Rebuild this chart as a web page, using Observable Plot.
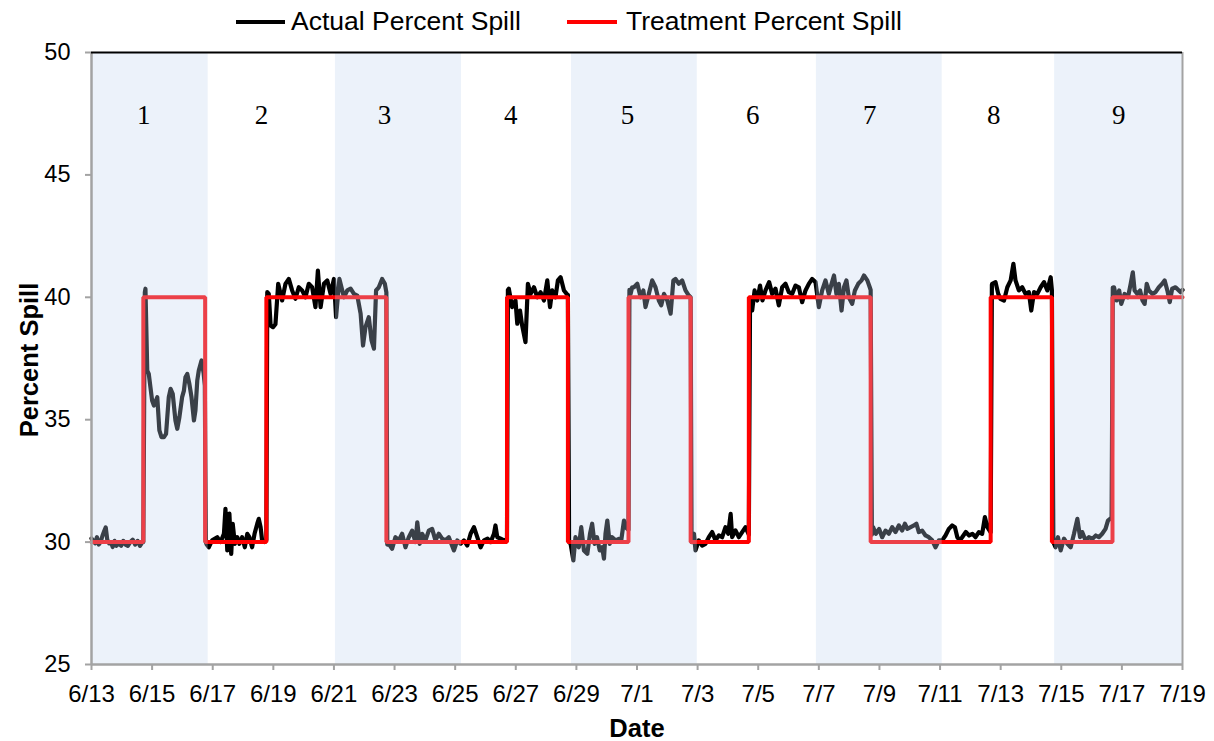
<!DOCTYPE html>
<html>
<head>
<meta charset="utf-8">
<script src="https://cdn.jsdelivr.net/npm/d3@7"></script>
<script src="https://cdn.jsdelivr.net/npm/@observablehq/plot@0.6"></script>
<style>
  html, body { margin: 0; padding: 0; background: #fff; }
  #wrap { position: relative; width: 1214px; height: 741px; font-family: "Liberation Sans", Arial, sans-serif; }
  .lg-line { position: absolute; height: 4px; }
  .lg-text { position: absolute; font-size: 26.5px; line-height: 26px; white-space: nowrap; color: #000; }
  .ttl { position: absolute; font-weight: bold; font-size: 25.5px; line-height: 26px; white-space: nowrap; color: #000; }
</style>
</head>
<body>
<div id="wrap">
  <div id="chart"></div>
  <div class="lg-line" style="left:236px; top:20px; width:49px; background:#000;"></div>
  <div class="lg-text" style="left:291px; top:8px;">Actual Percent Spill</div>
  <div class="lg-line" style="left:567px; top:20px; width:50px; background:#ff0000;"></div>
  <div class="lg-text" style="left:626px; top:8px;">Treatment Percent Spill</div>
  <div class="ttl" id="ylab" style="left:29px; top:360px; transform: translate(-50%,-50%) rotate(-90deg);">Percent Spill</div>
  <div class="ttl" id="xlab" style="left:637px; top:728px; transform: translate(-50%,-50%);">Date</div>
</div>
<script>
// ---- data (days are offsets from 6/13 00:00) ----
const startDate = Date.UTC(2014, 5, 13);
const endDay = 36;

const tickDays = [0, 2, 4, 6, 8, 10, 12, 14, 16, 18, 20, 22, 24, 26, 28, 30, 32, 34, 36];
const tickLabels = ["6/13","6/15","6/17","6/19","6/21","6/23","6/25","6/27","6/29","7/1","7/3","7/5","7/7","7/9","7/11","7/13","7/15","7/17","7/19"];
const yTicks = [25, 30, 35, 40, 45, 50];

const treatmentStepDays = [0, 1.71, 3.75, 5.77, 9.73, 13.71, 15.72, 17.72, 19.77, 21.69, 25.71, 29.67, 31.69, 33.69, 36];
const treatmentLevels = [30, 40, 30, 40, 30, 40, 30, 40, 30, 40, 30, 40, 30, 40, 40];

const bandStartDays = [0, 8.05, 15.84, 23.92, 31.78];
const bandEndDays = [3.85, 12.21, 19.99, 28.07, 36];

const periodLabels = ["1", "2", "3", "4", "5", "6", "7", "8", "9"];
const periodLabelDays = [1.72, 5.61, 9.67, 13.83, 17.69, 21.82, 25.68, 29.77, 33.9];

const actualDays = [
  0.00,0.06,0.12,0.18,0.24,0.30,0.36,0.42,0.47,0.52,0.58,0.64,0.70,0.76,0.82,0.90,0.98,1.05,1.12,1.20,1.28,1.36,1.44,1.52,1.60,1.68,1.71,
  1.76,1.78,1.84,1.89,2.00,2.06,2.17,2.24,2.31,2.39,2.46,2.55,2.61,2.68,2.77,2.83,2.90,2.99,3.05,3.10,3.16,3.23,3.30,3.38,3.43,3.49,3.54,3.63,3.70,3.74,
  3.77,3.80,3.87,3.98,4.15,4.26,4.37,4.42,4.48,4.55,4.61,4.66,4.73,4.81,4.88,4.97,5.06,5.14,5.21,5.30,5.38,5.47,5.52,5.58,5.63,5.71,5.77,
  5.80,5.85,5.91,5.99,6.07,6.16,6.29,6.40,6.51,6.62,6.73,6.84,6.95,7.06,7.17,7.28,7.39,7.47,7.56,7.67,7.78,7.89,8.00,8.07,8.18,8.33,8.44,8.55,8.66,8.77,8.88,8.96,9.04,9.15,9.24,9.32,9.39,9.48,9.59,9.68,9.73,
  9.76,9.81,9.92,10.03,10.14,10.25,10.36,10.47,10.58,10.69,10.75,10.83,10.91,11.02,11.13,11.24,11.35,11.46,11.57,11.68,11.79,11.96,12.07,12.18,12.29,12.40,12.51,12.62,12.73,12.84,12.95,13.07,13.17,13.28,13.33,13.39,13.50,13.61,13.71,
  13.74,13.77,13.88,13.99,14.05,14.14,14.21,14.32,14.40,14.49,14.60,14.71,14.82,14.93,15.04,15.13,15.20,15.31,15.39,15.48,15.59,15.68,15.72,
  15.76,15.81,15.90,15.97,16.08,16.16,16.25,16.36,16.45,16.52,16.60,16.68,16.77,16.85,16.91,16.96,17.02,17.10,17.18,17.29,17.40,17.48,17.57,17.62,17.72,
  17.75,17.79,17.84,17.90,18.01,18.12,18.21,18.28,18.39,18.50,18.61,18.72,18.80,18.89,19.00,19.11,19.20,19.27,19.38,19.49,19.60,19.71,19.77,
  19.80,19.88,19.93,20.04,20.15,20.26,20.37,20.48,20.59,20.70,20.81,20.92,21.01,21.09,21.14,21.25,21.36,21.47,21.58,21.69,
  21.73,21.80,21.88,21.97,22.06,22.14,22.24,22.36,22.46,22.57,22.68,22.79,22.90,23.01,23.12,23.23,23.34,23.45,23.56,23.67,23.78,23.89,24.00,24.11,24.22,24.33,24.42,24.50,24.58,24.66,24.75,24.83,24.91,24.99,25.10,25.19,25.30,25.41,25.49,25.60,25.68,25.71,
  25.75,25.79,25.88,25.99,26.09,26.20,26.31,26.42,26.53,26.64,26.75,26.84,26.92,27.03,27.14,27.22,27.30,27.41,27.52,27.63,27.74,27.85,27.96,28.07,28.18,28.29,28.40,28.49,28.57,28.65,28.73,28.85,28.96,29.07,29.17,29.28,29.39,29.48,29.56,29.67,
  29.71,29.72,29.83,29.92,29.99,30.11,30.22,30.33,30.42,30.49,30.60,30.71,30.82,30.93,31.01,31.10,31.21,31.32,31.43,31.54,31.65,31.69,
  31.74,31.81,31.89,31.98,32.09,32.20,32.31,32.42,32.53,32.62,32.69,32.80,32.91,33.03,33.14,33.24,33.35,33.46,33.54,33.66,
  33.70,33.74,33.83,33.91,33.98,34.09,34.20,34.29,34.36,34.42,34.51,34.60,34.68,34.75,34.82,34.89,35.01,35.11,35.22,35.33,35.41,35.50,35.58,35.66,35.77,35.88,35.94,36.00
];
const actualValues = [
  30.15,30.05,29.95,30.20,29.90,30.00,30.25,30.45,30.60,30.10,29.95,30.00,29.80,30.05,29.85,29.95,29.85,30.05,29.90,29.85,30.00,30.10,29.90,30.05,29.85,30.00,30.00,
  40.20,40.35,37.00,36.87,35.78,35.58,35.92,34.56,34.29,34.29,34.42,35.92,36.26,36.06,34.97,34.63,35.10,35.92,36.19,36.73,36.87,36.46,35.92,34.97,35.38,36.60,37.01,37.42,36.90,36.40,
  30.00,29.90,29.79,30.07,30.20,30.00,30.34,31.36,29.66,31.16,29.52,30.75,29.93,30.20,29.93,30.20,29.79,30.34,30.20,29.79,30.34,30.75,30.95,30.61,30.07,30.00,30.10,
  40.21,40.14,38.85,38.78,38.90,40.55,39.87,40.55,40.75,40.28,39.94,40.41,40.28,40.00,40.55,40.41,39.60,41.09,39.60,40.55,40.69,40.14,40.75,39.19,40.75,40.00,40.28,40.35,40.14,40.07,39.33,38.03,38.78,39.19,38.24,37.90,40.28,40.41,40.75,40.55,40.20,
  29.90,29.93,29.73,30.20,30.07,30.34,29.79,30.20,30.47,30.00,30.81,29.93,30.34,30.07,30.47,30.54,30.07,30.34,30.14,30.07,30.20,29.66,30.07,29.93,30.07,29.86,30.34,30.61,30.20,29.79,30.07,30.14,30.00,30.34,30.68,30.20,30.14,30.07,30.10,
  40.30,40.35,39.60,39.87,38.92,39.46,38.85,38.17,40.55,40.14,40.41,40.00,40.21,39.87,40.69,39.60,40.28,40.00,40.69,40.82,40.28,40.14,40.10,
  30.00,29.93,29.25,30.20,29.79,30.61,29.66,29.52,30.34,30.75,29.93,30.20,29.66,29.79,29.32,30.34,30.88,29.93,30.20,30.07,30.13,30.07,30.88,30.61,30.50,
  40.30,40.14,40.41,40.41,40.55,40.00,40.28,39.60,40.14,40.69,40.41,39.87,39.67,40.14,39.87,39.33,40.69,40.75,40.55,40.69,40.28,40.07,40.00,
  30.00,30.34,29.66,30.07,29.86,29.93,30.20,30.41,30.07,30.27,30.20,30.61,30.34,31.15,30.20,30.48,30.20,30.41,30.61,30.30,
  39.90,39.46,40.28,39.87,40.48,39.87,40.28,40.62,40.14,40.35,39.67,40.41,40.55,40.21,40.14,40.48,40.41,39.80,40.28,40.55,40.75,40.62,39.60,40.28,40.69,40.14,40.55,40.89,40.14,40.55,39.46,40.41,40.69,40.00,39.73,40.28,40.55,40.69,40.89,40.69,40.41,40.30,
  30.30,30.61,30.34,30.54,30.20,30.47,30.34,30.61,30.41,30.68,30.47,30.75,30.54,30.61,30.68,30.75,30.41,30.47,30.27,30.20,30.07,29.79,30.07,30.07,30.27,30.54,30.68,30.61,30.20,30.07,30.20,30.41,30.27,30.34,30.20,30.41,30.34,31.02,30.61,30.40,
  40.50,40.55,40.62,40.14,39.94,39.87,40.41,40.69,41.37,40.69,40.28,40.41,40.14,40.21,39.46,40.21,40.14,40.41,40.62,40.28,40.82,40.30,
  30.00,29.79,30.20,29.66,30.14,29.93,29.79,30.34,30.95,30.20,30.41,30.07,30.20,30.14,30.27,30.20,30.34,30.54,30.88,31.00,
  40.40,40.41,39.87,40.28,39.73,40.14,40.00,40.55,41.02,40.28,40.14,40.28,39.87,39.73,40.55,40.28,40.14,40.21,40.41,40.55,40.69,40.28,39.80,40.35,40.41,40.28,40.21,40.30
];

// ---- build tables ----
const toDate = d => new Date(startDate + d * 864e5);
const actual = actualDays.map((d, i) => ({t: toDate(d), v: actualValues[i]}));
const treatment = treatmentStepDays.map((d, i) => ({t: toDate(d), v: treatmentLevels[i]}));
const bands = bandStartDays.map((d, i) => ({t1: toDate(d), t2: toDate(bandEndDays[i])}));
const periods = periodLabels.map((s, i) => ({t: toDate(periodLabelDays[i]), label: s}));
const ticks = tickDays.map(toDate);
const tickFmt = d => tickLabels[tickDays.indexOf(Math.round((d - startDate) / 864e5))];

const axisGray = "#a3a3a3";

const chart = Plot.plot({
  width: 1214,
  height: 741,
  marginLeft: 91,
  marginRight: 32,
  marginTop: 52,
  marginBottom: 77,
  style: {fontFamily: "'Liberation Sans', Arial, sans-serif", background: "#fff", overflow: "visible"},
  x: {type: "utc", domain: [toDate(0), toDate(endDay)]},
  y: {domain: [25, 50]},
  marks: [
    Plot.line(actual, {x: "t", y: "v", stroke: "#000", strokeWidth: 4.2, strokeLinejoin: "round", strokeLinecap: "round"}),
    Plot.line(treatment, {x: "t", y: "v", stroke: "#ff0000", strokeWidth: 4, curve: "step-after", strokeLinejoin: "miter"}),
    Plot.rect(bands, {x1: "t1", x2: "t2", y1: 25, y2: 50, fill: "rgb(192,212,238)", fillOpacity: 0.3}),
    Plot.ruleX([toDate(0)], {stroke: axisGray, strokeWidth: 2.5}),
    Plot.ruleX([toDate(endDay)], {stroke: axisGray, strokeWidth: 2}),
    Plot.ruleY([25], {stroke: axisGray, strokeWidth: 2.5}),
    Plot.ruleY([50], {stroke: "#000", strokeWidth: 2}),
    Plot.axisX({ticks: ticks, tickFormat: tickFmt, tickSize: 6, tickPadding: 14, stroke: axisGray, strokeWidth: 2, fill: "#000", fontSize: 24, label: null}),
    Plot.axisY({ticks: yTicks, tickSize: 6, tickPadding: 15, stroke: axisGray, strokeWidth: 2, fill: "#000", fontSize: 23.5, label: null}),
    Plot.text(periods, {x: "t", y: 47.43, text: "label", fontFamily: "'Liberation Serif', 'Times New Roman', serif", fontSize: 27, fill: "#000"})
  ]
});
document.getElementById("chart").appendChild(chart);
</script>
</body>
</html>
